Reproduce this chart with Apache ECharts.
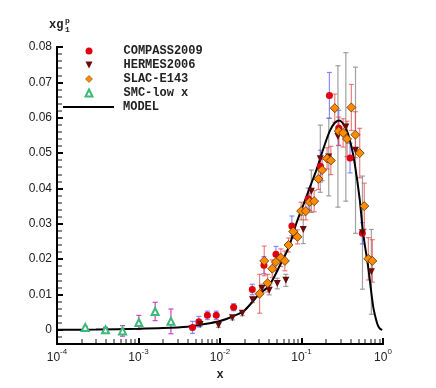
<!DOCTYPE html>
<html>
<head>
<meta charset="utf-8">
<script src="https://cdn.jsdelivr.net/npm/echarts@6/dist/echarts.min.js"></script>
<style>html,body{margin:0;padding:0;background:#fff}#main{width:436px;height:388px}</style>
</head>
<body>
<div id="main"></div>
<script>
// COMPASS2009
var compassX = [0.0046, 0.0055, 0.0070, 0.0090, 0.0147, 0.0249, 0.0346, 0.0486, 0.0762, 0.121, 0.171, 0.220, 0.286, 0.394, 0.558];
var compassY = [0.0007, 0.0023, 0.0041, 0.0041, 0.0064, 0.0114, 0.0183, 0.0214, 0.0294, 0.0371, 0.0463, 0.0663, 0.0571, 0.0486, 0.0273];
var compassErr = [0.0017, 0.0015, 0.0012, 0.0012, 0.0010, 0.0015, 0.0024, 0.0022, 0.0028, 0.0030, 0.0045, 0.0065, 0.0050, 0.0042, 0.0030];
// HERMES2006
var hermesX = [0.0057, 0.0096, 0.0142, 0.0188, 0.0251, 0.0327, 0.0402, 0.0504, 0.0643, 0.105, 0.132, 0.170, 0.216, 0.280, 0.350, 0.460, 0.560, 0.720];
var hermesY = [0.0015, 0.0013, 0.0034, 0.0047, 0.0085, 0.0117, 0.0112, 0.0131, 0.0140, 0.0284, 0.0392, 0.0484, 0.0489, 0.0547, 0.0574, 0.0508, 0.0275, 0.0164];
var hermesErr = [0.0005, 0.0006, 0.0006, 0.0007, 0.0008, 0.0012, 0.0013, 0.0015, 0.0017, 0.0040, 0.0060, 0.0095, 0.0110, 0.0200, 0.0210, 0.0235, 0.0160, 0.0120];
// SLAC-E143
var slacX = [0.0306, 0.0349, 0.0384, 0.0438, 0.0486, 0.0558, 0.0625, 0.0693, 0.0791, 0.0893, 0.0991, 0.113, 0.126, 0.143, 0.161, 0.179, 0.206, 0.229, 0.256, 0.286, 0.324, 0.362, 0.409, 0.458, 0.518, 0.590, 0.661, 0.740];
var slacY = [0.0102, 0.0195, 0.0132, 0.0173, 0.0192, 0.0204, 0.0195, 0.0240, 0.0278, 0.0263, 0.0336, 0.0336, 0.0362, 0.0364, 0.0427, 0.0452, 0.0485, 0.0479, 0.0627, 0.0562, 0.0557, 0.0540, 0.0629, 0.0552, 0.0500, 0.0350, 0.0201, 0.0195];
var slacErr = [0.0055, 0.0042, 0.0025, 0.0025, 0.0025, 0.0025, 0.0028, 0.0020, 0.0020, 0.0020, 0.0025, 0.0025, 0.0025, 0.0030, 0.0030, 0.0030, 0.0030, 0.0040, 0.0040, 0.0040, 0.0040, 0.0050, 0.0065, 0.0065, 0.0070, 0.0065, 0.0060, 0.0060];
// SMC-low x
var smcX = [0.000222, 0.000394, 0.000637, 0.00101, 0.0016, 0.0025];
var smcY = [0.0007, 0.0000, -0.0003, 0.0021, 0.0052, 0.0024];
var smcErr = [0.0003, 0.0007, 0.0015, 0.0020, 0.0026, 0.0035];
// MODEL curve
var modelX = [0.0001, 0.0003, 0.001, 0.002, 0.004, 0.006, 0.01, 0.015, 0.02, 0.03, 0.04, 0.055, 0.07, 0.087, 0.11, 0.13, 0.153, 0.184, 0.222, 0.255, 0.289, 0.32, 0.362, 0.409, 0.45, 0.518, 0.569, 0.655, 0.755, 0.82, 0.87, 0.92, 0.98];
var modelY = [0, 0.0001, 0.0003, 0.0005, 0.0009, 0.0015, 0.0025, 0.0040, 0.0055, 0.0100, 0.0125, 0.0185, 0.0235, 0.0303, 0.0365, 0.0410, 0.0453, 0.0510, 0.0562, 0.0585, 0.0592, 0.0585, 0.0562, 0.0519, 0.0470, 0.0369, 0.0275, 0.0181, 0.0068, 0.0030, 0.0011, 0.0003, 0];

// minor tick positions: log x (2..9 per decade), y every 0.002
var decades = [1e-4, 1e-3, 1e-2, 1e-1];
var mults = [2, 3, 4, 5, 6, 7, 8, 9];
var yMajors = [-0.01, 0, 0.01, 0.02, 0.03, 0.04, 0.05, 0.06, 0.07];
var ySteps = [0.002, 0.004, 0.006, 0.008];
var yMin = -0.004, yMax = 0.08;
var legFont = { fontFamily: 'Liberation Mono', fontWeight: 'bold', fontSize: 12, color: '#222' };
var downTri = 'path://M0,0L10,0L5,10Z';

function pts(xs, ys) {
	return xs.map(function (x, i) { return [x, ys[i]]; });
}
function bars(xs, ys, es) {
	return xs.map(function (x, i) { return [x, ys[i] - es[i], ys[i] + es[i]]; });
}
function barRender(color) {
	return function (params, api) {
		var x = api.value(0);
		var lo = api.coord([x, api.value(1)]);
		var hi = api.coord([x, api.value(2)]);
		var cw = 2.5;
		var st = { stroke: color, lineWidth: 1.2 };
		return {
			type: 'group', children: [
				{ type: 'line', shape: { x1: lo[0], y1: lo[1], x2: hi[0], y2: hi[1] }, style: st },
				{ type: 'line', shape: { x1: lo[0] - cw, y1: lo[1], x2: lo[0] + cw, y2: lo[1] }, style: st },
				{ type: 'line', shape: { x1: hi[0] - cw, y1: hi[1], x2: hi[0] + cw, y2: hi[1] }, style: st }
			]
		};
	};
}
function errSeries(data, color) {
	return {
		type: 'custom', silent: true, z: 1,
		renderItem: barRender(color),
		encode: { x: 0, y: [1, 2] },
		data: data
	};
}

var minorX = [];
decades.forEach(function (d) {
	mults.forEach(function (m) { minorX.push(+(d * m).toPrecision(3)); });
});
var minorY = [];
yMajors.forEach(function (b) {
	ySteps.forEach(function (s) {
		var v = +(b + s).toFixed(3);
		if (v > yMin && v < yMax) minorY.push(v);
	});
});
// the minor-tick axes only draw their ticks when the axis line is shown
var minorTick = { show: true, inside: true, length: 5, lineStyle: { color: '#666', width: 1.5 } };
var axLine = { show: true, onZero: false, lineStyle: { color: '#000', width: 2 } };

var myChart = echarts.init(document.getElementById('main'));
var option = {
	animation: false,
	grid: { left: 57, right: 53, top: 47, bottom: 44 },
	legend: [{
		orient: 'vertical', left: 84.5, top: 45, padding: 0,
		itemWidth: 7, itemHeight: 7, itemGap: 2,
		data: [
			{ name: 'COMPASS2009' },
			{ name: 'HERMES2006', icon: downTri },
			{ name: 'SLAC-E143', itemStyle: { borderWidth: 0.5 } },
			{ name: 'SMC-low x' }
		],
		textStyle: Object.assign({ padding: [0, 0, 0, 26] }, legFont)
	}, {
		orient: 'vertical', left: 63, top: 101, padding: 0,
		itemWidth: 51, itemHeight: 2,
		data: [{ name: 'MODEL', icon: 'rect' }],
		textStyle: Object.assign({ padding: [0, 0, 0, 4] }, legFont)
	}],
	graphic: [
		{ type: 'text', left: 49, top: 19, style: { text: 'xg', font: 'bold 12px "Liberation Mono"', fill: '#222' } },
		{ type: 'text', left: 65, top: 17, style: { text: 'p', font: 'bold 8px "Liberation Mono"', fill: '#222' } },
		{ type: 'text', left: 65, top: 26, style: { text: '1', font: 'bold 8px "Liberation Mono"', fill: '#222' } }
	],
	xAxis: [{
		type: 'log', logBase: 10, min: 1e-4, max: 1,
		name: 'x', nameLocation: 'middle', nameGap: 21,
		nameTextStyle: legFont,
		axisLine: axLine,
		axisTick: { inside: true, length: 6, lineStyle: { color: '#000', width: 2 } },
		splitLine: { show: false },
		axisLabel: {
			margin: 4, color: '#222',
			formatter: function (v) {
				var e = Math.round(Math.log10(v));
				return '{b|10}{e|' + e + '}';
			},
			rich: {
				b: { fontFamily: 'Liberation Sans', fontSize: 12, color: '#222', verticalAlign: 'bottom', lineHeight: 16 },
				e: { fontFamily: 'Liberation Sans', fontSize: 8, color: '#222', verticalAlign: 'top', lineHeight: 8 }
			}
		},
		z: 5
	}, {
		type: 'log', logBase: 10, min: 1e-4, max: 1, position: 'bottom',
		axisLine: axLine,
		axisTick: Object.assign({ customValues: minorX }, minorTick),
		axisLabel: { show: false },
		splitLine: { show: false }
	}],
	yAxis: [{
		type: 'value', min: yMin, max: yMax, splitNumber: 8,
		axisLine: axLine,
		axisTick: { inside: true, length: 6, lineStyle: { color: '#000', width: 2 } },
		splitLine: { show: false },
		axisLabel: {
			margin: 5, color: '#222', fontFamily: 'Liberation Sans', fontSize: 12, showMinLabel: false,
			formatter: function (v) { return v === 0 ? '0' : v.toFixed(2); }
		},
		z: 5
	}, {
		type: 'value', min: yMin, max: yMax, position: 'left',
		axisLine: axLine,
		axisTick: Object.assign({ customValues: minorY }, minorTick),
		axisLabel: { show: false },
		splitLine: { show: false }
	}],
	series: [
		errSeries(bars(smcX, smcY, smcErr), '#cc44cc'),
		errSeries(bars(hermesX, hermesY, hermesErr), 'rgba(130,130,130,0.75)'),
		errSeries(bars(compassX, compassY, compassErr), 'rgba(100,100,255,0.75)'),
		errSeries(bars(slacX, slacY, slacErr), 'rgba(230,60,60,0.65)'),
		{
			name: 'MODEL', type: 'line', z: 2, data: pts(modelX, modelY),
			symbol: 'none', showSymbol: false, smooth: 0.3,
			lineStyle: { color: '#000', width: 2 }, itemStyle: { color: '#000' }
		},
		{
			name: 'COMPASS2009', type: 'scatter', z: 3, data: pts(compassX, compassY),
			symbol: 'circle', symbolSize: 7, itemStyle: { color: '#e00010', opacity: 1 }
		},
		{
			name: 'HERMES2006', type: 'scatter', z: 3, data: pts(hermesX, hermesY),
			symbol: downTri, symbolSize: 7, itemStyle: { color: '#6b0a0a', opacity: 1 }
		},
		{
			name: 'SLAC-E143', type: 'scatter', z: 3, data: pts(slacX, slacY),
			symbol: 'diamond', symbolSize: 9, itemStyle: { color: '#ff8c00', borderColor: '#5a3000', borderWidth: 0.8, opacity: 1 }
		},
		{
			name: 'SMC-low x', type: 'scatter', z: 3, data: pts(smcX, smcY),
			symbol: 'emptyTriangle', symbolSize: 7, itemStyle: { color: '#3cb878', borderWidth: 1, opacity: 1 }
		}
	]
};
myChart.setOption(option);
</script>
</body>
</html>
